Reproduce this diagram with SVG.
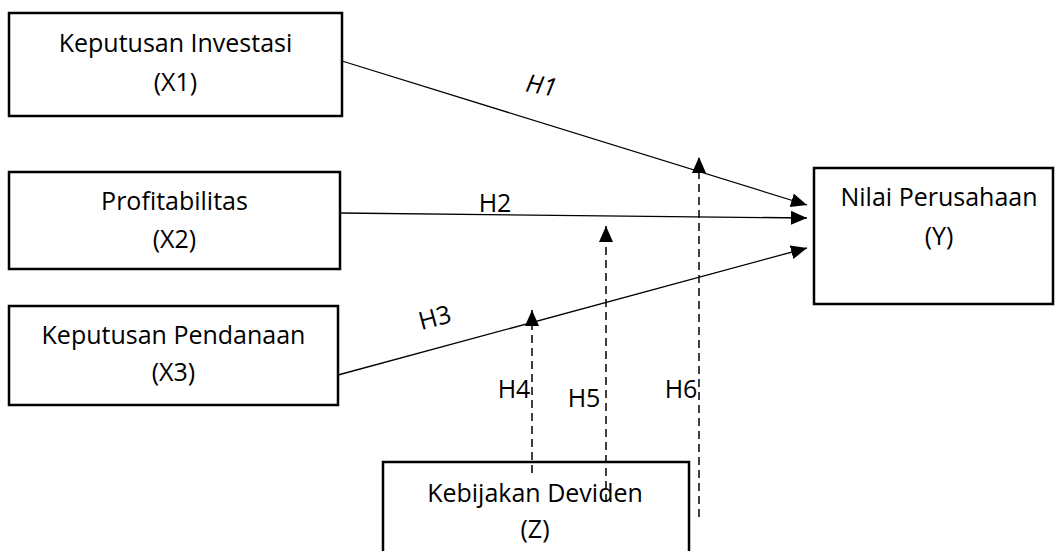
<svg xmlns="http://www.w3.org/2000/svg" width="1057" height="551" viewBox="0 0 1057 551">
<style>
.box{fill:#fff;stroke:#000;stroke-width:2.5}
.t{font-family:"Open Sans","Liberation Sans",sans-serif;font-size:25px;fill:#000;text-anchor:middle}
.ln{stroke:#000;stroke-width:1.3;fill:none}
.ds{stroke:#000;stroke-width:1.5;fill:none;stroke-dasharray:8 5}
</style>
<defs>
<marker id="ah" viewBox="0 0 16 14" refX="16" refY="7" markerWidth="16" markerHeight="14" markerUnits="userSpaceOnUse" orient="auto">
<path d="M0,0 L16,7 L0,14 Z" fill="#000"/>
</marker>
</defs>
<g id="node-x1">
<rect class="box" x="9" y="13" width="333" height="103"/>
<text class="t" x="175.5" y="52">Keputusan Investasi</text>
<text class="t" x="175.5" y="91">(X1)</text>
</g>
<g id="node-x2">
<rect class="box" x="9" y="172" width="331" height="97"/>
<text class="t" x="174.5" y="210">Profitabilitas</text>
<text class="t" x="174.5" y="248">(X2)</text>
</g>
<g id="node-x3">
<rect class="box" x="9" y="306" width="329" height="99"/>
<text class="t" x="173.5" y="344">Keputusan Pendanaan</text>
<text class="t" x="173.5" y="381">(X3)</text>
</g>
<g id="node-y">
<rect class="box" x="814" y="168" width="239" height="136"/>
<text class="t" x="939" y="206">Nilai Perusahaan</text>
<text class="t" x="939" y="245">(Y)</text>
</g>
<g id="node-z">
<rect class="box" x="383" y="462" width="306" height="100"/>
<text class="t" x="535" y="502">Kebijakan Deviden</text>
<text class="t" x="535" y="538">(Z)</text>
</g>
<g id="connectors">
<line class="ln" x1="342" y1="61" x2="807" y2="205" marker-end="url(#ah)"/>
<line class="ln" x1="340" y1="213" x2="807" y2="218" marker-end="url(#ah)"/>
<line class="ln" x1="338" y1="375" x2="807" y2="248" marker-end="url(#ah)"/>
<line class="ds" x1="532" y1="473" x2="532" y2="310" marker-end="url(#ah)"/>
<line class="ds" x1="606" y1="502" x2="606" y2="226" marker-end="url(#ah)"/>
<line class="ds" x1="699" y1="517" x2="699" y2="157" marker-end="url(#ah)"/>
<text class="t" font-style="italic" transform="translate(540,94) rotate(10)">H1</text>
<text class="t" x="495" y="212">H2</text>
<text class="t" transform="translate(437,326) rotate(-15)">H3</text>
<text class="t" x="514" y="398">H4</text>
<text class="t" x="584" y="407">H5</text>
<text class="t" x="681" y="398">H6</text>
</g>
</svg>
